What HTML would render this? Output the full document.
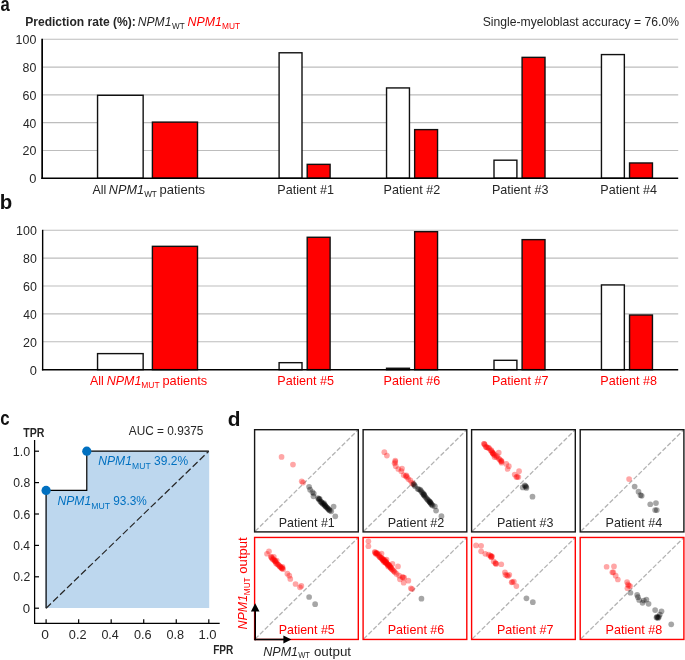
<!DOCTYPE html>
<html><head><meta charset="utf-8"><title>figure</title>
<style>html,body{margin:0;padding:0;background:#fff}svg{display:block;will-change:transform}</style></head>
<body>
<svg width="685" height="660" viewBox="0 0 685 660" font-family='"Liberation Sans", sans-serif'>
<rect width="685" height="660" fill="#fff"/>
<line x1="42.15" x2="678.2" y1="39.30" y2="39.30" stroke="#bdbdbd" stroke-width="1.1"/>
<line x1="42.15" x2="678.2" y1="67.09" y2="67.09" stroke="#bdbdbd" stroke-width="1.1"/>
<line x1="42.15" x2="678.2" y1="94.88" y2="94.88" stroke="#bdbdbd" stroke-width="1.1"/>
<line x1="42.15" x2="678.2" y1="122.67" y2="122.67" stroke="#bdbdbd" stroke-width="1.1"/>
<line x1="42.15" x2="678.2" y1="150.46" y2="150.46" stroke="#bdbdbd" stroke-width="1.1"/>
<text x="15.62" y="44.30" font-size="13.0" fill="#262626" textLength="20.75" lengthAdjust="spacingAndGlyphs">100</text>
<text x="22.60" y="72.09" font-size="13.0" fill="#262626" textLength="13.78" lengthAdjust="spacingAndGlyphs">80</text>
<text x="22.53" y="99.88" font-size="13.0" fill="#262626" textLength="13.86" lengthAdjust="spacingAndGlyphs">60</text>
<text x="22.88" y="127.67" font-size="13.0" fill="#262626" textLength="13.49" lengthAdjust="spacingAndGlyphs">40</text>
<text x="22.53" y="155.46" font-size="13.0" fill="#262626" textLength="13.86" lengthAdjust="spacingAndGlyphs">20</text>
<text x="29.25" y="183.25" font-size="13.0" fill="#262626" textLength="7.15" lengthAdjust="spacingAndGlyphs">0</text>
<rect x="97.55" y="95.30" width="45.6" height="82.95" fill="#fff" stroke="#111" stroke-width="1.4"/>
<rect x="152.40" y="122.11" width="45.1" height="56.14" fill="#ff0000" stroke="#111" stroke-width="1.4"/>
<rect x="279.10" y="52.78" width="22.9" height="125.47" fill="#fff" stroke="#111" stroke-width="1.4"/>
<rect x="307.20" y="164.35" width="22.9" height="13.90" fill="#ff0000" stroke="#111" stroke-width="1.4"/>
<rect x="386.55" y="87.93" width="22.9" height="90.32" fill="#fff" stroke="#111" stroke-width="1.4"/>
<rect x="414.65" y="129.62" width="22.9" height="48.63" fill="#ff0000" stroke="#111" stroke-width="1.4"/>
<rect x="494.00" y="160.19" width="22.9" height="18.06" fill="#fff" stroke="#111" stroke-width="1.4"/>
<rect x="522.10" y="57.36" width="22.9" height="120.89" fill="#ff0000" stroke="#111" stroke-width="1.4"/>
<rect x="601.45" y="54.58" width="22.9" height="123.67" fill="#fff" stroke="#111" stroke-width="1.4"/>
<rect x="629.55" y="162.97" width="22.9" height="15.28" fill="#ff0000" stroke="#111" stroke-width="1.4"/>
<line x1="42.15" x2="42.15" y1="38.8" y2="179.0" stroke="#000" stroke-width="1.7"/>
<line x1="41.4" x2="678.2" y1="178.25" y2="178.25" stroke="#000" stroke-width="1.5"/>
<line x1="42.65" x2="678.2" y1="230.30" y2="230.30" stroke="#bdbdbd" stroke-width="1.1"/>
<line x1="42.65" x2="678.2" y1="258.17" y2="258.17" stroke="#bdbdbd" stroke-width="1.1"/>
<line x1="42.65" x2="678.2" y1="286.04" y2="286.04" stroke="#bdbdbd" stroke-width="1.1"/>
<line x1="42.65" x2="678.2" y1="313.91" y2="313.91" stroke="#bdbdbd" stroke-width="1.1"/>
<line x1="42.65" x2="678.2" y1="341.78" y2="341.78" stroke="#bdbdbd" stroke-width="1.1"/>
<text x="16.07" y="235.30" font-size="13.0" fill="#262626" textLength="20.75" lengthAdjust="spacingAndGlyphs">100</text>
<text x="23.05" y="263.17" font-size="13.0" fill="#262626" textLength="13.78" lengthAdjust="spacingAndGlyphs">80</text>
<text x="22.98" y="291.04" font-size="13.0" fill="#262626" textLength="13.86" lengthAdjust="spacingAndGlyphs">60</text>
<text x="23.33" y="318.91" font-size="13.0" fill="#262626" textLength="13.49" lengthAdjust="spacingAndGlyphs">40</text>
<text x="22.98" y="346.78" font-size="13.0" fill="#262626" textLength="13.86" lengthAdjust="spacingAndGlyphs">20</text>
<text x="29.70" y="374.65" font-size="13.0" fill="#262626" textLength="7.15" lengthAdjust="spacingAndGlyphs">0</text>
<rect x="97.55" y="353.62" width="45.6" height="16.03" fill="#fff" stroke="#111" stroke-width="1.4"/>
<rect x="152.40" y="246.33" width="45.1" height="123.32" fill="#ff0000" stroke="#111" stroke-width="1.4"/>
<rect x="279.10" y="362.68" width="22.9" height="6.97" fill="#fff" stroke="#111" stroke-width="1.4"/>
<rect x="307.20" y="237.27" width="22.9" height="132.38" fill="#ff0000" stroke="#111" stroke-width="1.4"/>
<rect x="386.55" y="368.26" width="22.9" height="1.39" fill="#fff" stroke="#111" stroke-width="1.4"/>
<rect x="414.65" y="231.69" width="22.9" height="137.96" fill="#ff0000" stroke="#111" stroke-width="1.4"/>
<rect x="494.00" y="360.31" width="22.9" height="9.34" fill="#fff" stroke="#111" stroke-width="1.4"/>
<rect x="522.10" y="239.64" width="22.9" height="130.01" fill="#ff0000" stroke="#111" stroke-width="1.4"/>
<rect x="601.45" y="284.93" width="22.9" height="84.72" fill="#fff" stroke="#111" stroke-width="1.4"/>
<rect x="629.55" y="315.02" width="22.9" height="54.63" fill="#ff0000" stroke="#111" stroke-width="1.4"/>
<line x1="42.65" x2="42.65" y1="229.8" y2="370.4" stroke="#000" stroke-width="1.4"/>
<line x1="41.9" x2="678.2" y1="369.65" y2="369.65" stroke="#000" stroke-width="1.5"/>
<text x="0.41" y="11.40" font-size="20.5" fill="#111" textLength="9.27" lengthAdjust="spacingAndGlyphs" font-weight="bold">a</text>
<text x="-0.24" y="208.90" font-size="20.5" fill="#111" textLength="12.48" lengthAdjust="spacingAndGlyphs" font-weight="bold">b</text>
<text x="0.24" y="424.70" font-size="20.5" fill="#111" textLength="9.37" lengthAdjust="spacingAndGlyphs" font-weight="bold">c</text>
<text x="227.74" y="425.60" font-size="20.5" fill="#111" textLength="12.73" lengthAdjust="spacingAndGlyphs" font-weight="bold">d</text>
<text x="25.17" y="26.10" font-size="13.0" fill="#262626" textLength="110.74" lengthAdjust="spacingAndGlyphs" font-weight="bold">Prediction rate (%):</text>
<text x="137.78" y="26.10" font-size="13.0" fill="#262626" textLength="33.63" lengthAdjust="spacingAndGlyphs" font-style="italic">NPM1</text>
<text x="172.04" y="29.10" font-size="9.3" fill="#262626" textLength="12.65" lengthAdjust="spacingAndGlyphs">WT</text>
<text x="187.47" y="26.10" font-size="13.0" fill="#ff0000" textLength="34.36" lengthAdjust="spacingAndGlyphs" font-style="italic">NPM1</text>
<text x="222.12" y="29.10" font-size="9.3" fill="#ff0000" textLength="18.06" lengthAdjust="spacingAndGlyphs">MUT</text>
<text x="482.71" y="26.10" font-size="13.0" fill="#262626" textLength="196.28" lengthAdjust="spacingAndGlyphs">Single-myeloblast accuracy = 76.0%</text>
<text x="92.53" y="194.00" font-size="13.0" fill="#262626" textLength="13.80" lengthAdjust="spacingAndGlyphs">All</text>
<text x="108.86" y="194.00" font-size="13.0" fill="#262626" textLength="35.09" lengthAdjust="spacingAndGlyphs" font-style="italic">NPM1</text>
<text x="144.14" y="197.00" font-size="9.3" fill="#262626" textLength="12.76" lengthAdjust="spacingAndGlyphs">WT</text>
<text x="159.50" y="194.00" font-size="13.0" fill="#262626" textLength="45.55" lengthAdjust="spacingAndGlyphs">patients</text>
<text x="90.03" y="384.70" font-size="13.0" fill="#ff0000" textLength="13.80" lengthAdjust="spacingAndGlyphs">All</text>
<text x="106.77" y="384.70" font-size="13.0" fill="#ff0000" textLength="34.67" lengthAdjust="spacingAndGlyphs" font-style="italic">NPM1</text>
<text x="141.21" y="387.70" font-size="9.3" fill="#ff0000" textLength="18.37" lengthAdjust="spacingAndGlyphs">MUT</text>
<text x="162.42" y="384.70" font-size="13.0" fill="#ff0000" textLength="44.83" lengthAdjust="spacingAndGlyphs">patients</text>
<text x="277.31" y="194.00" font-size="13.0" fill="#262626" textLength="56.66" lengthAdjust="spacingAndGlyphs">Patient #1</text>
<text x="277.31" y="384.70" font-size="13.0" fill="#ff0000" textLength="56.66" lengthAdjust="spacingAndGlyphs">Patient #5</text>
<text x="383.61" y="194.00" font-size="13.0" fill="#262626" textLength="56.66" lengthAdjust="spacingAndGlyphs">Patient #2</text>
<text x="383.61" y="384.70" font-size="13.0" fill="#ff0000" textLength="56.66" lengthAdjust="spacingAndGlyphs">Patient #6</text>
<text x="491.91" y="194.00" font-size="13.0" fill="#262626" textLength="56.66" lengthAdjust="spacingAndGlyphs">Patient #3</text>
<text x="491.91" y="384.70" font-size="13.0" fill="#ff0000" textLength="56.66" lengthAdjust="spacingAndGlyphs">Patient #7</text>
<text x="600.36" y="194.00" font-size="13.0" fill="#262626" textLength="56.51" lengthAdjust="spacingAndGlyphs">Patient #4</text>
<text x="600.36" y="384.70" font-size="13.0" fill="#ff0000" textLength="56.66" lengthAdjust="spacingAndGlyphs">Patient #8</text>
<polygon points="45.5,607.9000000000001 45.5,490.45 86.78,490.45 86.78,451.2 209.20000000000002,451.2 209.20000000000002,607.9000000000001" fill="#bdd7ee"/>
<polyline points="46.1,608.2 46.1,490.45 86.78,490.45 86.78,451.2 208.8,451.2" fill="none" stroke="#000" stroke-width="1.2"/>
<line x1="46.1" y1="608.2" x2="208.8" y2="451.2" stroke="#262626" stroke-width="1.2" stroke-dasharray="6.8,2.9"/>
<circle cx="46.1" cy="490.45" r="4.6" fill="#0070c0"/>
<circle cx="86.78" cy="451.2" r="4.6" fill="#0070c0"/>
<path d="M34.6,440 V623.4 H219.7" fill="none" stroke="#000" stroke-width="1.25"/>
<line x1="34.6" x2="39.0" y1="608.20" y2="608.20" stroke="#000" stroke-width="1.2"/>
<line x1="46.10" x2="46.10" y1="623.4" y2="619.2" stroke="#000" stroke-width="1.2"/>
<text x="22.89" y="612.80" font-size="13.0" fill="#262626" textLength="7.33" lengthAdjust="spacingAndGlyphs">0</text>
<text x="41.26" y="638.90" font-size="13.0" fill="#262626" textLength="7.67" lengthAdjust="spacingAndGlyphs">0</text>
<line x1="34.6" x2="39.0" y1="576.80" y2="576.80" stroke="#000" stroke-width="1.2"/>
<line x1="78.64" x2="78.64" y1="623.4" y2="619.2" stroke="#000" stroke-width="1.2"/>
<text x="13.33" y="581.40" font-size="13.0" fill="#262626" textLength="16.96" lengthAdjust="spacingAndGlyphs">0.2</text>
<text x="68.85" y="638.90" font-size="13.0" fill="#262626" textLength="17.71" lengthAdjust="spacingAndGlyphs">0.2</text>
<line x1="34.6" x2="39.0" y1="545.40" y2="545.40" stroke="#000" stroke-width="1.2"/>
<line x1="111.18" x2="111.18" y1="623.4" y2="619.2" stroke="#000" stroke-width="1.2"/>
<text x="13.34" y="550.00" font-size="13.0" fill="#262626" textLength="16.69" lengthAdjust="spacingAndGlyphs">0.4</text>
<text x="101.40" y="638.90" font-size="13.0" fill="#262626" textLength="17.43" lengthAdjust="spacingAndGlyphs">0.4</text>
<line x1="34.6" x2="39.0" y1="514.00" y2="514.00" stroke="#000" stroke-width="1.2"/>
<line x1="143.72" x2="143.72" y1="623.4" y2="619.2" stroke="#000" stroke-width="1.2"/>
<text x="13.33" y="518.60" font-size="13.0" fill="#262626" textLength="16.91" lengthAdjust="spacingAndGlyphs">0.6</text>
<text x="133.93" y="638.90" font-size="13.0" fill="#262626" textLength="17.66" lengthAdjust="spacingAndGlyphs">0.6</text>
<line x1="34.6" x2="39.0" y1="482.60" y2="482.60" stroke="#000" stroke-width="1.2"/>
<line x1="176.26" x2="176.26" y1="623.4" y2="619.2" stroke="#000" stroke-width="1.2"/>
<text x="13.33" y="487.20" font-size="13.0" fill="#262626" textLength="16.91" lengthAdjust="spacingAndGlyphs">0.8</text>
<text x="166.47" y="638.90" font-size="13.0" fill="#262626" textLength="17.66" lengthAdjust="spacingAndGlyphs">0.8</text>
<line x1="34.6" x2="39.0" y1="451.20" y2="451.20" stroke="#000" stroke-width="1.2"/>
<line x1="208.80" x2="208.80" y1="623.4" y2="619.2" stroke="#000" stroke-width="1.2"/>
<text x="12.85" y="455.80" font-size="13.0" fill="#262626" textLength="17.33" lengthAdjust="spacingAndGlyphs">1.0</text>
<text x="198.50" y="638.90" font-size="13.0" fill="#262626" textLength="18.09" lengthAdjust="spacingAndGlyphs">1.0</text>
<text x="23.19" y="436.80" font-size="13.0" fill="#262626" textLength="21.17" lengthAdjust="spacingAndGlyphs" font-weight="bold">TPR</text>
<text x="213.15" y="653.60" font-size="13.0" fill="#262626" textLength="20.10" lengthAdjust="spacingAndGlyphs" font-weight="bold">FPR</text>
<text x="128.80" y="435.20" font-size="13.0" fill="#262626" textLength="74.66" lengthAdjust="spacingAndGlyphs">AUC = 0.9375</text>
<text x="98.18" y="465.30" font-size="13.0" fill="#0070c0" textLength="33.73" lengthAdjust="spacingAndGlyphs" font-style="italic">NPM1</text>
<text x="132.11" y="468.50" font-size="9.3" fill="#0070c0" textLength="18.48" lengthAdjust="spacingAndGlyphs">MUT</text>
<text x="154.09" y="465.30" font-size="13.0" fill="#0070c0" textLength="34.04" lengthAdjust="spacingAndGlyphs">39.2%</text>
<text x="57.48" y="505.40" font-size="13.0" fill="#0070c0" textLength="33.73" lengthAdjust="spacingAndGlyphs" font-style="italic">NPM1</text>
<text x="91.30" y="508.60" font-size="9.3" fill="#0070c0" textLength="18.79" lengthAdjust="spacingAndGlyphs">MUT</text>
<text x="113.21" y="505.40" font-size="13.0" fill="#0070c0" textLength="33.61" lengthAdjust="spacingAndGlyphs">93.3%</text>
<line x1="255.20" y1="531.25" x2="357.70" y2="430.30" stroke="#b3b3b3" stroke-width="1.3" stroke-dasharray="4.7,2.05"/>
<g fill-opacity="0.35"><circle cx="281.56" cy="456.9" r="2.85" fill="#ff0000"/><circle cx="292.98" cy="464.62" r="2.85" fill="#ff0000"/><circle cx="301.71" cy="481.24" r="2.85" fill="#ff0000"/><circle cx="303.05" cy="482.58" r="2.85" fill="#ff0000"/><circle cx="309.09" cy="486.78" r="2.85" fill="#000"/><circle cx="310.1" cy="489.64" r="2.85" fill="#000"/><circle cx="312.45" cy="492.15" r="2.85" fill="#000"/><circle cx="313.8" cy="493.5" r="2.85" fill="#000"/><circle cx="313.46" cy="496.35" r="2.85" fill="#000"/><circle cx="317.99" cy="498.03" r="2.85" fill="#000"/><circle cx="319.17" cy="499.71" r="2.85" fill="#000"/><circle cx="320.51" cy="501.39" r="2.85" fill="#000"/><circle cx="321.85" cy="502.56" r="2.85" fill="#000"/><circle cx="323.2" cy="503.91" r="2.85" fill="#000"/><circle cx="324.71" cy="505.25" r="2.85" fill="#000"/><circle cx="325.88" cy="506.59" r="2.85" fill="#000"/><circle cx="327.23" cy="507.93" r="2.85" fill="#000"/><circle cx="328.57" cy="509.28" r="2.85" fill="#000"/><circle cx="329.91" cy="510.62" r="2.85" fill="#000"/><circle cx="331.26" cy="511.29" r="2.85" fill="#000"/><circle cx="333.61" cy="506.59" r="2.85" fill="#000"/><circle cx="335.28" cy="516.33" r="2.85" fill="#000"/><circle cx="323.87" cy="503.07" r="2.85" fill="#000"/><circle cx="319.67" cy="498.87" r="2.85" fill="#000"/><circle cx="318.83" cy="498.87" r="2.85" fill="#000"/><circle cx="321.18" cy="501.89" r="2.85" fill="#000"/><circle cx="322.53" cy="503.57" r="2.85" fill="#000"/><circle cx="325.21" cy="505.92" r="2.85" fill="#000"/><circle cx="326.55" cy="507.26" r="2.85" fill="#000"/><circle cx="327.9" cy="508.61" r="2.85" fill="#000"/><circle cx="329.24" cy="509.95" r="2.85" fill="#000"/><circle cx="324.54" cy="504.58" r="2.85" fill="#000"/></g>
<rect x="254.6" y="429.7" width="103.7" height="102.2" fill="none" stroke="#161616" stroke-width="1.4"/>
<text x="278.82" y="526.90" font-size="13.0" fill="#262626" textLength="55.94" lengthAdjust="spacingAndGlyphs">Patient #1</text>
<line x1="363.70" y1="531.25" x2="466.20" y2="430.30" stroke="#b3b3b3" stroke-width="1.3" stroke-dasharray="4.7,2.05"/>
<g fill-opacity="0.35"><circle cx="384.36" cy="452.2" r="2.85" fill="#ff0000"/><circle cx="386.88" cy="455.55" r="2.85" fill="#ff0000"/><circle cx="395.27" cy="460.59" r="2.85" fill="#ff0000"/><circle cx="394.6" cy="463.28" r="2.85" fill="#ff0000"/><circle cx="395.77" cy="466.13" r="2.85" fill="#ff0000"/><circle cx="398.29" cy="468.99" r="2.85" fill="#ff0000"/><circle cx="401.99" cy="468.65" r="2.85" fill="#ff0000"/><circle cx="401.31" cy="471.17" r="2.85" fill="#ff0000"/><circle cx="403.66" cy="475.03" r="2.85" fill="#ff0000"/><circle cx="406.35" cy="475.36" r="2.85" fill="#ff0000"/><circle cx="407.02" cy="477.04" r="2.85" fill="#ff0000"/><circle cx="408.36" cy="479.06" r="2.85" fill="#ff0000"/><circle cx="410.38" cy="480.4" r="2.85" fill="#ff0000"/><circle cx="412.06" cy="482.92" r="2.85" fill="#ff0000"/><circle cx="413.07" cy="484.09" r="2.85" fill="#ff0000"/><circle cx="405.85" cy="476.2" r="2.85" fill="#ff0000"/><circle cx="395.27" cy="461.93" r="2.85" fill="#ff0000"/><circle cx="413.74" cy="484.09" r="2.85" fill="#000"/><circle cx="415.08" cy="486.28" r="2.85" fill="#000"/><circle cx="417.6" cy="488.8" r="2.85" fill="#000"/><circle cx="420.12" cy="489.64" r="2.85" fill="#000"/><circle cx="421.8" cy="492.15" r="2.85" fill="#000"/><circle cx="423.81" cy="494.17" r="2.85" fill="#000"/><circle cx="424.82" cy="496.35" r="2.85" fill="#000"/><circle cx="426.83" cy="498.87" r="2.85" fill="#000"/><circle cx="428.51" cy="500.55" r="2.85" fill="#000"/><circle cx="430.19" cy="502.23" r="2.85" fill="#000"/><circle cx="431.2" cy="503.91" r="2.85" fill="#000"/><circle cx="432.71" cy="505.58" r="2.85" fill="#000"/><circle cx="434.89" cy="506.42" r="2.85" fill="#000"/><circle cx="436.07" cy="510.62" r="2.85" fill="#000"/><circle cx="441.44" cy="516.16" r="2.85" fill="#000"/><circle cx="414.41" cy="485.1" r="2.85" fill="#000"/><circle cx="418.77" cy="489.3" r="2.85" fill="#000"/><circle cx="420.96" cy="490.81" r="2.85" fill="#000"/><circle cx="422.8" cy="493.16" r="2.85" fill="#000"/><circle cx="424.31" cy="495.18" r="2.85" fill="#000"/><circle cx="425.82" cy="497.53" r="2.85" fill="#000"/><circle cx="427.67" cy="499.71" r="2.85" fill="#000"/><circle cx="429.35" cy="501.39" r="2.85" fill="#000"/><circle cx="430.69" cy="503.07" r="2.85" fill="#000"/><circle cx="431.87" cy="504.74" r="2.85" fill="#000"/><circle cx="423.47" cy="494.67" r="2.85" fill="#000"/><circle cx="429.85" cy="501.89" r="2.85" fill="#000"/></g>
<rect x="363.1" y="429.7" width="103.7" height="102.2" fill="none" stroke="#161616" stroke-width="1.4"/>
<text x="387.71" y="526.90" font-size="13.0" fill="#262626" textLength="56.66" lengthAdjust="spacingAndGlyphs">Patient #2</text>
<line x1="472.20" y1="531.25" x2="574.70" y2="430.30" stroke="#b3b3b3" stroke-width="1.3" stroke-dasharray="4.7,2.05"/>
<g fill-opacity="0.35"><circle cx="484.13" cy="443.8" r="2.85" fill="#ff0000"/><circle cx="485.81" cy="446.82" r="2.85" fill="#ff0000"/><circle cx="488.66" cy="447.66" r="2.85" fill="#ff0000"/><circle cx="491.18" cy="450.18" r="2.85" fill="#ff0000"/><circle cx="492.53" cy="452.7" r="2.85" fill="#ff0000"/><circle cx="493.7" cy="454.38" r="2.85" fill="#ff0000"/><circle cx="494.54" cy="456.9" r="2.85" fill="#ff0000"/><circle cx="497.06" cy="456.06" r="2.85" fill="#ff0000"/><circle cx="498.74" cy="452.7" r="2.85" fill="#ff0000"/><circle cx="498.74" cy="458.58" r="2.85" fill="#ff0000"/><circle cx="500.92" cy="460.59" r="2.85" fill="#ff0000"/><circle cx="501.59" cy="462.77" r="2.85" fill="#ff0000"/><circle cx="506.29" cy="463.95" r="2.85" fill="#ff0000"/><circle cx="508.81" cy="466.13" r="2.85" fill="#ff0000"/><circle cx="507.64" cy="468.99" r="2.85" fill="#ff0000"/><circle cx="514.69" cy="474.53" r="2.85" fill="#ff0000"/><circle cx="519.05" cy="471.17" r="2.85" fill="#ff0000"/><circle cx="516.36" cy="477.04" r="2.85" fill="#ff0000"/><circle cx="518.38" cy="477.04" r="2.85" fill="#ff0000"/><circle cx="492.02" cy="451.86" r="2.85" fill="#ff0000"/><circle cx="493.2" cy="453.54" r="2.85" fill="#ff0000"/><circle cx="501.26" cy="461.6" r="2.85" fill="#ff0000"/><circle cx="484.8" cy="444.81" r="2.85" fill="#ff0000"/><circle cx="484.13" cy="443.8" r="2.85" fill="#ff0000"/><circle cx="486.48" cy="447.16" r="2.85" fill="#ff0000"/><circle cx="489.17" cy="448.5" r="2.85" fill="#ff0000"/><circle cx="490.85" cy="450.52" r="2.85" fill="#ff0000"/><circle cx="492.86" cy="453.2" r="2.85" fill="#ff0000"/><circle cx="494.88" cy="455.22" r="2.85" fill="#ff0000"/><circle cx="496.55" cy="457.23" r="2.85" fill="#ff0000"/><circle cx="499.58" cy="459.42" r="2.85" fill="#ff0000"/><circle cx="501.59" cy="461.09" r="2.85" fill="#ff0000"/><circle cx="487.49" cy="447.5" r="2.85" fill="#ff0000"/><circle cx="517.2" cy="476.71" r="2.85" fill="#ff0000"/><circle cx="522.74" cy="487.45" r="2.85" fill="#000"/><circle cx="524.76" cy="485.44" r="2.85" fill="#000"/><circle cx="526.1" cy="486.78" r="2.85" fill="#000"/><circle cx="526.44" cy="487.96" r="2.85" fill="#000"/><circle cx="532.48" cy="496.69" r="2.85" fill="#000"/><circle cx="525.43" cy="486.11" r="2.85" fill="#000"/></g>
<rect x="471.6" y="429.7" width="103.7" height="102.2" fill="none" stroke="#161616" stroke-width="1.4"/>
<text x="496.91" y="526.90" font-size="13.0" fill="#262626" textLength="56.45" lengthAdjust="spacingAndGlyphs">Patient #3</text>
<line x1="580.80" y1="531.25" x2="683.30" y2="430.30" stroke="#b3b3b3" stroke-width="1.3" stroke-dasharray="4.7,2.05"/>
<g fill-opacity="0.35"><circle cx="629.09" cy="479.06" r="2.85" fill="#ff0000"/><circle cx="634.64" cy="486.61" r="2.85" fill="#000"/><circle cx="638.5" cy="491.65" r="2.85" fill="#000"/><circle cx="640.51" cy="495.18" r="2.85" fill="#000"/><circle cx="641.69" cy="495.85" r="2.85" fill="#000"/><circle cx="650.25" cy="504.24" r="2.85" fill="#000"/><circle cx="655.96" cy="503.07" r="2.85" fill="#000"/><circle cx="655.12" cy="510.12" r="2.85" fill="#000"/><circle cx="656.8" cy="510.12" r="2.85" fill="#000"/></g>
<rect x="580.2" y="429.7" width="103.7" height="102.2" fill="none" stroke="#161616" stroke-width="1.4"/>
<text x="605.61" y="526.90" font-size="13.0" fill="#262626" textLength="56.62" lengthAdjust="spacingAndGlyphs">Patient #4</text>
<line x1="255.20" y1="638.90" x2="357.70" y2="538.05" stroke="#b3b3b3" stroke-width="1.3" stroke-dasharray="4.7,2.05"/>
<g fill-opacity="0.35"><circle cx="268.96" cy="551.4" r="2.85" fill="#ff0000"/><circle cx="267.01" cy="553.73" r="2.85" fill="#ff0000"/><circle cx="270.9" cy="556.84" r="2.85" fill="#ff0000"/><circle cx="273.81" cy="556.84" r="2.85" fill="#ff0000"/><circle cx="272.84" cy="559.55" r="2.85" fill="#ff0000"/><circle cx="275.36" cy="561.1" r="2.85" fill="#ff0000"/><circle cx="276.72" cy="560.72" r="2.85" fill="#ff0000"/><circle cx="276.13" cy="563.43" r="2.85" fill="#ff0000"/><circle cx="278.66" cy="564.99" r="2.85" fill="#ff0000"/><circle cx="280.01" cy="566.54" r="2.85" fill="#ff0000"/><circle cx="281.57" cy="567.9" r="2.85" fill="#ff0000"/><circle cx="283.12" cy="569.25" r="2.85" fill="#ff0000"/><circle cx="282.54" cy="566.93" r="2.85" fill="#ff0000"/><circle cx="287.39" cy="573.72" r="2.85" fill="#ff0000"/><circle cx="289.33" cy="575.66" r="2.85" fill="#ff0000"/><circle cx="290.3" cy="578.96" r="2.85" fill="#ff0000"/><circle cx="295.54" cy="584.0" r="2.85" fill="#ff0000"/><circle cx="300.0" cy="587.3" r="2.85" fill="#ff0000"/><circle cx="301.36" cy="585.94" r="2.85" fill="#ff0000"/><circle cx="271.87" cy="558.19" r="2.85" fill="#ff0000"/><circle cx="274.78" cy="561.1" r="2.85" fill="#ff0000"/><circle cx="277.3" cy="564.01" r="2.85" fill="#ff0000"/><circle cx="280.79" cy="567.31" r="2.85" fill="#ff0000"/><circle cx="281.96" cy="568.48" r="2.85" fill="#ff0000"/><circle cx="271.48" cy="557.22" r="2.85" fill="#ff0000"/><circle cx="273.42" cy="559.16" r="2.85" fill="#ff0000"/><circle cx="275.75" cy="562.07" r="2.85" fill="#ff0000"/><circle cx="278.07" cy="564.6" r="2.85" fill="#ff0000"/><circle cx="279.63" cy="566.15" r="2.85" fill="#ff0000"/><circle cx="282.34" cy="568.09" r="2.85" fill="#ff0000"/><circle cx="274.58" cy="560.33" r="2.85" fill="#ff0000"/><circle cx="309.12" cy="597.0" r="2.85" fill="#000"/><circle cx="315.13" cy="604.18" r="2.85" fill="#000"/></g>
<rect x="254.6" y="537.45" width="103.7" height="102.0" fill="none" stroke="#ff0000" stroke-width="1.4"/>
<text x="278.82" y="634.00" font-size="13.0" fill="#ff0000" textLength="55.94" lengthAdjust="spacingAndGlyphs">Patient #5</text>
<line x1="363.70" y1="638.90" x2="466.20" y2="538.05" stroke="#b3b3b3" stroke-width="1.3" stroke-dasharray="4.7,2.05"/>
<g fill-opacity="0.35"><circle cx="368.41" cy="541.23" r="2.85" fill="#ff0000"/><circle cx="368.41" cy="546.27" r="2.85" fill="#ff0000"/><circle cx="374.79" cy="551.81" r="2.85" fill="#ff0000"/><circle cx="376.13" cy="552.99" r="2.85" fill="#ff0000"/><circle cx="377.31" cy="553.82" r="2.85" fill="#ff0000"/><circle cx="375.63" cy="553.82" r="2.85" fill="#ff0000"/><circle cx="378.99" cy="554.66" r="2.85" fill="#ff0000"/><circle cx="381.5" cy="553.49" r="2.85" fill="#ff0000"/><circle cx="379.82" cy="557.18" r="2.85" fill="#ff0000"/><circle cx="381.5" cy="558.53" r="2.85" fill="#ff0000"/><circle cx="383.18" cy="559.2" r="2.85" fill="#ff0000"/><circle cx="384.86" cy="560.2" r="2.85" fill="#ff0000"/><circle cx="386.54" cy="559.7" r="2.85" fill="#ff0000"/><circle cx="384.02" cy="561.88" r="2.85" fill="#ff0000"/><circle cx="385.7" cy="563.06" r="2.85" fill="#ff0000"/><circle cx="387.38" cy="563.9" r="2.85" fill="#ff0000"/><circle cx="389.06" cy="564.74" r="2.85" fill="#ff0000"/><circle cx="388.22" cy="566.42" r="2.85" fill="#ff0000"/><circle cx="390.74" cy="567.26" r="2.85" fill="#ff0000"/><circle cx="392.42" cy="563.9" r="2.85" fill="#ff0000"/><circle cx="391.58" cy="568.93" r="2.85" fill="#ff0000"/><circle cx="393.26" cy="570.61" r="2.85" fill="#ff0000"/><circle cx="394.93" cy="572.29" r="2.85" fill="#ff0000"/><circle cx="397.96" cy="566.42" r="2.85" fill="#ff0000"/><circle cx="396.61" cy="573.97" r="2.85" fill="#ff0000"/><circle cx="399.13" cy="575.65" r="2.85" fill="#ff0000"/><circle cx="402.49" cy="576.99" r="2.85" fill="#ff0000"/><circle cx="404.17" cy="577.66" r="2.85" fill="#ff0000"/><circle cx="399.97" cy="579.34" r="2.85" fill="#ff0000"/><circle cx="403.66" cy="582.7" r="2.85" fill="#ff0000"/><circle cx="408.36" cy="580.69" r="2.85" fill="#ff0000"/><circle cx="410.88" cy="588.24" r="2.85" fill="#ff0000"/><circle cx="412.06" cy="589.08" r="2.85" fill="#ff0000"/><circle cx="375.12" cy="552.48" r="2.85" fill="#ff0000"/><circle cx="376.47" cy="553.49" r="2.85" fill="#ff0000"/><circle cx="378.15" cy="555.5" r="2.85" fill="#ff0000"/><circle cx="380.66" cy="557.52" r="2.85" fill="#ff0000"/><circle cx="382.34" cy="558.86" r="2.85" fill="#ff0000"/><circle cx="383.52" cy="560.2" r="2.85" fill="#ff0000"/><circle cx="384.86" cy="561.38" r="2.85" fill="#ff0000"/><circle cx="386.2" cy="562.22" r="2.85" fill="#ff0000"/><circle cx="386.88" cy="563.23" r="2.85" fill="#ff0000"/><circle cx="388.55" cy="565.24" r="2.85" fill="#ff0000"/><circle cx="389.9" cy="566.42" r="2.85" fill="#ff0000"/><circle cx="390.91" cy="567.93" r="2.85" fill="#ff0000"/><circle cx="392.42" cy="569.61" r="2.85" fill="#ff0000"/><circle cx="382.51" cy="559.87" r="2.85" fill="#ff0000"/><circle cx="384.53" cy="560.88" r="2.85" fill="#ff0000"/><circle cx="385.87" cy="561.88" r="2.85" fill="#ff0000"/><circle cx="387.55" cy="564.23" r="2.85" fill="#ff0000"/><circle cx="389.23" cy="565.58" r="2.85" fill="#ff0000"/><circle cx="376.8" cy="552.82" r="2.85" fill="#ff0000"/><circle cx="379.49" cy="556.51" r="2.85" fill="#ff0000"/><circle cx="381.5" cy="557.85" r="2.85" fill="#ff0000"/><circle cx="383.18" cy="560.54" r="2.85" fill="#ff0000"/><circle cx="385.53" cy="562.55" r="2.85" fill="#ff0000"/><circle cx="387.88" cy="564.91" r="2.85" fill="#ff0000"/><circle cx="390.23" cy="567.59" r="2.85" fill="#ff0000"/><circle cx="394.09" cy="571.28" r="2.85" fill="#ff0000"/><circle cx="402.99" cy="577.33" r="2.85" fill="#ff0000"/><circle cx="421.46" cy="598.65" r="2.85" fill="#000"/></g>
<rect x="363.1" y="537.45" width="103.7" height="102.0" fill="none" stroke="#ff0000" stroke-width="1.4"/>
<text x="387.71" y="634.00" font-size="13.0" fill="#ff0000" textLength="56.66" lengthAdjust="spacingAndGlyphs">Patient #6</text>
<line x1="472.20" y1="638.90" x2="574.70" y2="538.05" stroke="#b3b3b3" stroke-width="1.3" stroke-dasharray="4.7,2.05"/>
<g fill-opacity="0.35"><circle cx="476.07" cy="545.43" r="2.85" fill="#ff0000"/><circle cx="481.11" cy="545.77" r="2.85" fill="#ff0000"/><circle cx="481.11" cy="551.31" r="2.85" fill="#ff0000"/><circle cx="485.31" cy="553.82" r="2.85" fill="#ff0000"/><circle cx="488.66" cy="554.66" r="2.85" fill="#ff0000"/><circle cx="490.34" cy="555.5" r="2.85" fill="#ff0000"/><circle cx="492.02" cy="556.34" r="2.85" fill="#ff0000"/><circle cx="491.18" cy="557.18" r="2.85" fill="#ff0000"/><circle cx="493.7" cy="561.38" r="2.85" fill="#ff0000"/><circle cx="495.38" cy="563.06" r="2.85" fill="#ff0000"/><circle cx="496.22" cy="563.9" r="2.85" fill="#ff0000"/><circle cx="501.26" cy="564.23" r="2.85" fill="#ff0000"/><circle cx="504.95" cy="572.29" r="2.85" fill="#ff0000"/><circle cx="505.45" cy="574.81" r="2.85" fill="#ff0000"/><circle cx="507.97" cy="575.99" r="2.85" fill="#ff0000"/><circle cx="509.31" cy="574.81" r="2.85" fill="#ff0000"/><circle cx="511.66" cy="582.36" r="2.85" fill="#ff0000"/><circle cx="513.85" cy="581.53" r="2.85" fill="#ff0000"/><circle cx="516.36" cy="586.06" r="2.85" fill="#ff0000"/><circle cx="490.85" cy="556.01" r="2.85" fill="#ff0000"/><circle cx="491.52" cy="556.68" r="2.85" fill="#ff0000"/><circle cx="495.72" cy="563.39" r="2.85" fill="#ff0000"/><circle cx="506.96" cy="575.31" r="2.85" fill="#ff0000"/><circle cx="512.34" cy="582.03" r="2.85" fill="#ff0000"/><circle cx="526.44" cy="598.31" r="2.85" fill="#000"/><circle cx="532.82" cy="602.18" r="2.85" fill="#000"/></g>
<rect x="471.6" y="537.45" width="103.7" height="102.0" fill="none" stroke="#ff0000" stroke-width="1.4"/>
<text x="496.91" y="634.00" font-size="13.0" fill="#ff0000" textLength="56.45" lengthAdjust="spacingAndGlyphs">Patient #7</text>
<line x1="580.80" y1="638.90" x2="683.30" y2="538.05" stroke="#b3b3b3" stroke-width="1.3" stroke-dasharray="4.7,2.05"/>
<g fill-opacity="0.35"><circle cx="606.6" cy="566.75" r="2.85" fill="#ff0000"/><circle cx="613.99" cy="566.42" r="2.85" fill="#ff0000"/><circle cx="612.31" cy="572.29" r="2.85" fill="#ff0000"/><circle cx="613.31" cy="572.29" r="2.85" fill="#ff0000"/><circle cx="615.66" cy="575.65" r="2.85" fill="#ff0000"/><circle cx="617.85" cy="579.51" r="2.85" fill="#ff0000"/><circle cx="627.08" cy="582.03" r="2.85" fill="#ff0000"/><circle cx="627.92" cy="584.38" r="2.85" fill="#ff0000"/><circle cx="628.76" cy="585.72" r="2.85" fill="#ff0000"/><circle cx="630.1" cy="586.06" r="2.85" fill="#ff0000"/><circle cx="627.42" cy="588.24" r="2.85" fill="#ff0000"/><circle cx="630.44" cy="592.77" r="2.85" fill="#000"/><circle cx="637.15" cy="594.96" r="2.85" fill="#000"/><circle cx="637.99" cy="597.14" r="2.85" fill="#000"/><circle cx="639.17" cy="599.99" r="2.85" fill="#000"/><circle cx="642.53" cy="602.85" r="2.85" fill="#000"/><circle cx="643.87" cy="600.5" r="2.85" fill="#000"/><circle cx="646.39" cy="599.49" r="2.85" fill="#000"/><circle cx="648.57" cy="603.85" r="2.85" fill="#000"/><circle cx="655.12" cy="610.07" r="2.85" fill="#000"/><circle cx="661.5" cy="611.24" r="2.85" fill="#000"/><circle cx="659.82" cy="614.6" r="2.85" fill="#000"/><circle cx="656.96" cy="616.78" r="2.85" fill="#000"/><circle cx="658.14" cy="617.96" r="2.85" fill="#000"/><circle cx="658.98" cy="616.78" r="2.85" fill="#000"/><circle cx="656.46" cy="617.62" r="2.85" fill="#000"/><circle cx="671.23" cy="624.34" r="2.85" fill="#000"/><circle cx="657.64" cy="617.28" r="2.85" fill="#000"/></g>
<rect x="580.2" y="537.45" width="103.7" height="102.0" fill="none" stroke="#ff0000" stroke-width="1.4"/>
<text x="605.61" y="634.00" font-size="13.0" fill="#ff0000" textLength="56.76" lengthAdjust="spacingAndGlyphs">Patient #8</text>
<path d="M255.2,640.2 V610" stroke="#000" stroke-width="1.6" fill="none"/><path d="M250.9,611.4 L255.2,603.3 L259.5,611.4 Z" fill="#000"/>
<path d="M254.4,639.5 H285" stroke="#000" stroke-width="1.6" fill="none"/><path d="M283.4,635.4 L291.4,639.5 L283.4,643.6 Z" fill="#000"/>
<text x="263.27" y="655.60" font-size="13.0" fill="#262626" textLength="34.78" lengthAdjust="spacingAndGlyphs" font-style="italic">NPM1</text>
<text x="298.14" y="658.30" font-size="9.3" fill="#262626" textLength="11.73" lengthAdjust="spacingAndGlyphs">WT</text>
<text x="313.94" y="655.60" font-size="13.0" fill="#262626" textLength="37.15" lengthAdjust="spacingAndGlyphs">output</text>
<g transform="translate(246.6,629) rotate(-90)">
<text x="-0.43" y="0.00" font-size="13.0" fill="#ff0000" textLength="34.46" lengthAdjust="spacingAndGlyphs" font-style="italic">NPM1</text>
<text x="33.83" y="3.00" font-size="9.3" fill="#ff0000" textLength="17.74" lengthAdjust="spacingAndGlyphs">MUT</text>
<text x="55.35" y="0.00" font-size="13.0" fill="#ff0000" textLength="36.34" lengthAdjust="spacingAndGlyphs">output</text>
</g>
</svg>
</body></html>
